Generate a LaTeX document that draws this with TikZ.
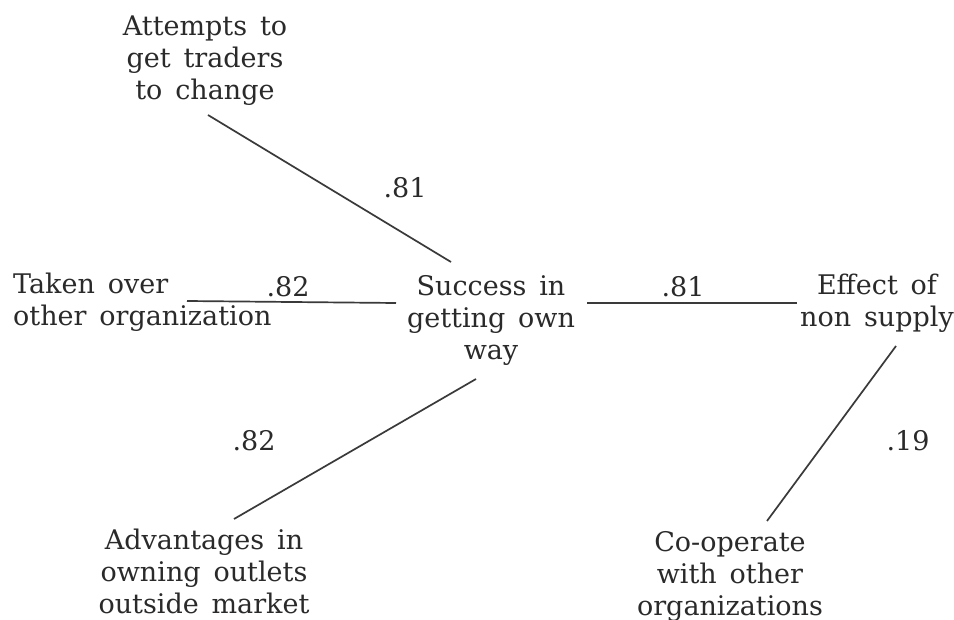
\documentclass[tikz,border=0pt]{standalone}
\usepackage{fontspec}
\setmainfont[WordSpace=1.5]{DejaVu Serif}
\usetikzlibrary{calc}
\definecolor{ink}{HTML}{2A2A2A}
\definecolor{wire}{HTML}{3A3A3A}
\tikzset{
  concept/.style={inner sep=0pt, align=center, text=ink,
    font=\fontsize{27}{32}\selectfont},
  weight/.style={inner sep=0pt, text=ink, font=\fontsize{27}{32}\selectfont},
  link/.style={draw=wire, line width=1.7pt}
}
\begin{document}
\begin{tikzpicture}[x=1pt, y=-1pt]
  \fill[white] (0,0) rectangle (954,620);
  \useasboundingbox (0,0) rectangle (954,620);

  % concepts (base anchor sits on the baseline of the last line)
  \node[concept, anchor=base] (att) at (205,100) {Attempts to\\get traders\\to change};
  \node[concept, anchor=base west, align=left] (tak) at (13,326) {Taken over\\other organization};
  \node[concept, anchor=base] (suc) at (491,360) {Success in\\getting own\\way};
  \node[concept, anchor=base] (eff) at (877,327) {Effect of\\non supply};
  \node[concept, anchor=base] (adv) at (204,613) {Advantages in\\owning outlets\\outside market};
  \node[concept, anchor=base] (coo) at (730,615) {Co-operate\\with other\\organizations};

  % path weights
  \node[weight] (w1) at (405,188) {.81};
  \node[weight] (w2) at (288,287) {.82};
  \node[weight] (w3) at (683,287) {.81};
  \node[weight] (w4) at (254,441) {.82};
  \node[weight] (w5) at (908,441) {.19};

  % connectors
  \draw[link] ($(att.base)+(3,15)$) -- ($(suc.base)+(-40,-98)$);
  \draw[link] ($(tak.base west)+(174,-25)$) -- ($(suc.base)+(-95,-57)$);
  \draw[link] ($(suc.base)+(96,-57)$) -- ($(eff.base)+(-80,-24)$);
  \draw[link] ($(suc.base)+(-15,19)$) -- ($(adv.base)+(30,-94)$);
  \draw[link] ($(eff.base)+(19,19)$) -- ($(coo.base)+(37,-94)$);
\end{tikzpicture}
\end{document}
